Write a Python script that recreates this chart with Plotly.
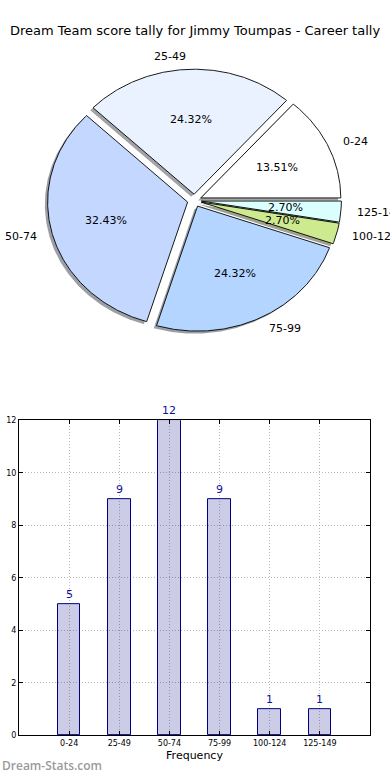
import numpy as np
import plotly.graph_objects as go

# ---------------- data ----------------
categories = ["0-24", "25-49", "50-74", "75-99", "100-124", "125-149"]
counts = [5, 9, 12, 9, 1, 1]
pie_colors = ["#ffffff", "#eaf2ff", "#c4d8ff", "#b4d5ff", "#cdea8e", "#dbffff"]
title_text = "Dream Team score tally for Jimmy Toumpas - Career tally"
x_title = "Frequency"
y_title = "Score Interval"
watermark = "Dream-Stats.com"

W, H = 390, 780
FONT = "DejaVu Sans"

# pie geometry (matplotlib-like, elliptical because axes not equal)
explode = 0.05
shadow_off = -0.02
cx_px, cy_px, rx_px, ry_px = 194.4, 198.8, 140.0, 126.5
pie_bottom_px = 400


def hex_to_rgb(h):
    h = h.lstrip("#")
    return tuple(int(h[i:i + 2], 16) for i in (0, 2, 4))


fig = go.Figure()

vals = np.array(counts, dtype=float)
fracs = vals / vals.sum()
ends = np.cumsum(fracs) * 360.0
starts = ends - fracs * 360.0

wedges = []
for i, (t1, t2) in enumerate(zip(starts, ends)):
    mid = np.radians((t1 + t2) / 2)
    ox, oy = explode * np.cos(mid), explode * np.sin(mid)
    n = max(3, int((t2 - t1) * 2))
    th = np.radians(np.linspace(t1, t2, n))
    xs = np.concatenate([[ox], ox + np.cos(th), [ox]])
    ys = np.concatenate([[oy], oy + np.sin(th), [oy]])
    wedges.append((xs, ys, ox, oy, mid))

# shadows first
for i, (xs, ys, ox, oy, mid) in enumerate(wedges):
    r, g, b = hex_to_rgb(pie_colors[i])
    fig.add_trace(go.Scatter(
        x=xs + shadow_off, y=ys + shadow_off, mode="lines", fill="toself",
        fillcolor=f"rgba({int(r*0.3)},{int(g*0.3)},{int(b*0.3)},0.5)",
        line=dict(width=0), xaxis="x2", yaxis="y2", hoverinfo="skip", showlegend=False))

for i, (xs, ys, ox, oy, mid) in enumerate(wedges):
    fig.add_trace(go.Scatter(
        x=xs, y=ys, mode="lines", fill="toself", fillcolor=pie_colors[i],
        line=dict(color="black", width=0.9), xaxis="x2", yaxis="y2",
        name=categories[i], hoverinfo="name", showlegend=False))

annotations = []
for i, (xs, ys, ox, oy, mid) in enumerate(wedges):
    px_ = ox + 0.6 * np.cos(mid)
    py_ = oy + 0.6 * np.sin(mid)
    annotations.append(dict(x=px_, y=py_, xref="x2", yref="y2", showarrow=False,
                            text=f"{fracs[i]*100:.2f}%", xanchor="center", yanchor="middle",
                            font=dict(family=FONT, size=11, color="black")))
    lx = ox + 1.1 * np.cos(mid)
    ly = oy + 1.1 * np.sin(mid)
    annotations.append(dict(x=lx, y=ly, xref="x2", yref="y2", showarrow=False,
                            text=categories[i], xanchor="left" if lx > 0 else "right",
                            yanchor="middle", font=dict(family=FONT, size=11, color="black")))

# ---------------- bar chart ----------------
fig.add_trace(go.Bar(
    x=categories, y=counts, width=0.45,
    marker=dict(color="rgba(0,0,128,0.2)", line=dict(color="#000080", width=1)),
    xaxis="x", yaxis="y", showlegend=False, hoverinfo="x+y"))

for c, v in zip(categories, counts):
    annotations.append(dict(x=c, y=v, xref="x", yref="y", text=str(v), showarrow=False,
                            xanchor="center", yanchor="bottom", yshift=1,
                            font=dict(family=FONT, size=11, color="#10109a")))

bar_left, bar_right, bar_top, bar_bottom = 19, 370, 421, 740

annotations.append(dict(x=-4 / W, y=(H - (bar_top + bar_bottom) / 2) / H, xref="paper", yref="paper",
                        text=y_title, textangle=-90, showarrow=False, xanchor="center",
                        yanchor="middle", font=dict(family=FONT, size=10, color="black")))
annotations.append(dict(x=0, y=10 / H, xref="paper", yref="paper", text=watermark,
                        showarrow=False, xanchor="left", yanchor="middle",
                        font=dict(family="Open Sans", size=12, color="#9a9a9a", weight=600)))

fig.update_layout(
    width=W, height=H, margin=dict(l=0, r=0, t=0, b=0),
    paper_bgcolor="white", plot_bgcolor="white",
    title=dict(text=title_text, x=0.5, xanchor="center", y=1 - 30 / H, yanchor="middle",
               font=dict(family=FONT, size=13, color="black")),
    annotations=annotations,
    xaxis2=dict(domain=[0, 1], range=[-cx_px / rx_px, (W - cx_px) / rx_px], anchor="y2",
                visible=False, fixedrange=True),
    yaxis2=dict(domain=[(H - pie_bottom_px) / H, 1],
                range=[-(pie_bottom_px - cy_px) / ry_px, cy_px / ry_px], anchor="x2",
                visible=False, fixedrange=True),
    xaxis=dict(domain=[bar_left / W, bar_right / W], anchor="y", type="category",
               range=[-1, len(categories)], showline=True, linecolor="black", linewidth=1,
               mirror="ticks", ticks="inside", ticklen=4, tickcolor="black",
               showgrid=True, gridcolor="#b8b8b8", griddash="1px,2px", gridwidth=1,
               tickfont=dict(family=FONT, size=8, color="black"),
               title=dict(text=x_title, font=dict(family=FONT, size=11, color="black"), standoff=4)),
    yaxis=dict(domain=[(H - bar_bottom) / H, (H - bar_top) / H], anchor="x",
               range=[0, 12], dtick=2, showline=True, linecolor="black", linewidth=1,
               mirror="ticks", ticks="inside", ticklen=4, tickcolor="black",
               showgrid=True, gridcolor="#b8b8b8", griddash="1px,2px", gridwidth=1, zeroline=False,
               tickfont=dict(family=FONT, size=8, color="black")),
    bargap=0,
)

fig.write_html("out.html", post_script="document.body.style.margin='0';",
               config={"displayModeBar": False})
